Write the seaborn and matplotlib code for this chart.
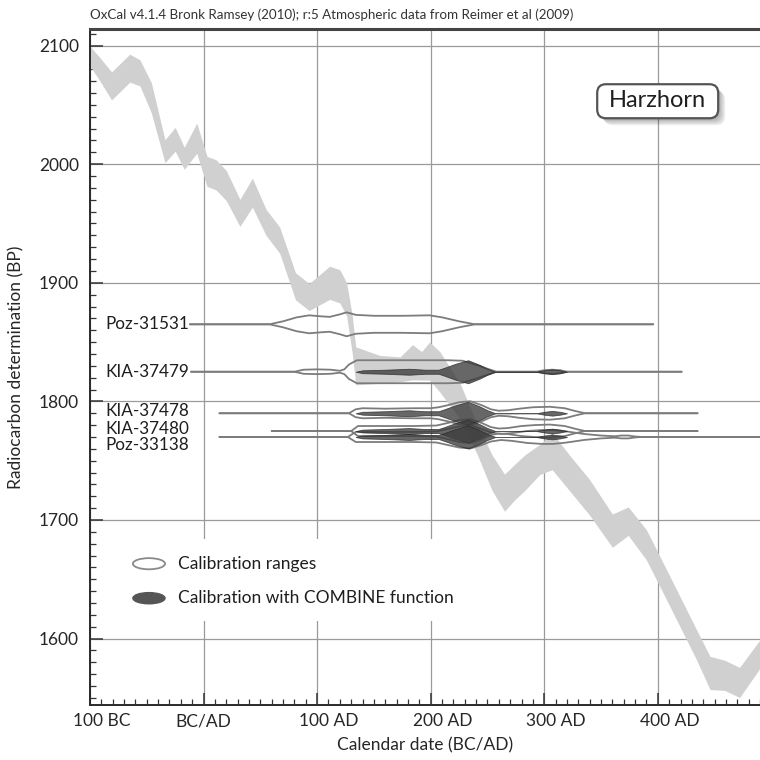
import numpy as np
import pandas as pd
import matplotlib
matplotlib.use("Agg")
import matplotlib.pyplot as plt
import matplotlib.patheffects as pe
import matplotlib.transforms as mtransforms
from matplotlib.patches import Ellipse, Rectangle, FancyBboxPatch
from matplotlib.ticker import MultipleLocator
import seaborn as sns

# Calibration curve band: centre and 1-sigma half width
curve_year = [-100, -92, -81, -65, -56, -46, -34, -25, -17, -6,
              3, 11, 20, 32, 43, 55, 67, 81, 93, 111,
              120, 126, 131, 134, 155, 173, 184, 192, 199, 208,
              226, 241, 254, 265, 274, 283, 296, 307, 322, 340,
              360, 374, 390, 410, 434, 446, 459, 472, 490]
curve_bp = [2091, 2081, 2066, 2081, 2077, 2056, 2011, 2021, 2005, 2022,
            1994, 1991, 1982, 1959, 1976, 1951, 1936, 1897, 1888, 1900,
            1897, 1886, 1856, 1830, 1827, 1827, 1833, 1830, 1834, 1825,
            1800, 1768, 1740, 1723, 1732, 1740, 1751, 1758, 1740, 1719,
            1691, 1699, 1679, 1641, 1595, 1571, 1569, 1563, 1587]
curve_err = [8.4, 9.7, 11.8, 11.8, 11, 12.7, 9.7, 10, 9.3, 12.7,
             12.7, 12.7, 12.7, 11.4, 12.2, 11, 11, 11.4, 11.4, 14,
             14, 14, 16, 16, 11.8, 10.5, 14.8, 12, 16, 17,
             15, 12.7, 15, 15.6, 15, 15, 12.7, 15.6, 15, 15,
             14, 12, 12.7, 12.7, 12.7, 14, 12.7, 12.7, 12]

# Radiocarbon dates
date_names = ["Poz-31531", "KIA-37479", "KIA-37478", "KIA-37480", "Poz-33138"]
date_bp = [1865, 1825, 1790, 1775, 1770]
line_start = [-12, -11, 14, 60, 14]
line_end = [396, 421, 435, 435, 520]
in_combine = [False, True, True, True, True]

# Calibrated distributions (relative probability)
poz31531_year = [58, 70, 82, 93, 103, 111, 120, 126, 134, 150, 175, 199, 210, 225, 239]
poz31531_prob = [0, .25, .58, .75, .67, .62, .83, 1.0, .79, .71, .71, .75, .58, .25, 0]

kia37479_year = [80, 88, 100, 112, 120, 124, 128, 135, 150, 175, 200, 215, 228, 240, 250, 258,
                 293, 300, 307, 314, 320]
kia37479_prob = [0, .17, .2, .17, .08, .2, .6, .96, .96, .96, .96, .96, .92, .58, .25, 0,
                 0, .13, .17, .13, 0]

kia37478_year = [128, 134, 140, 160, 185, 200, 207, 215, 225, 235, 245, 253, 260, 268, 278, 290,
                 305, 318, 328, 336]
kia37478_prob = [0, .33, .42, .38, .42, .42, .5, .67, .92, 1.0, .67, .33, .21, .25, .38, .5,
                 .54, .42, .17, 0]

kia37480_year = [130, 136, 160, 185, 205, 215, 225, 235, 245, 253, 260, 268, 280, 292, 305, 318,
                 328, 336]
kia37480_prob = [0, .42, .42, .42, .46, .67, .92, 1.0, .67, .33, .21, .25, .42, .5, .54, .42,
                 .17, 0]

poz33138_year = [127, 134, 160, 185, 205, 215, 225, 235, 245, 253, 262, 272, 285, 298, 308, 320,
                 335, 350, 362, 368, 374, 380, 386]
poz33138_prob = [0, .42, .42, .42, .46, .67, .88, .96, .67, .38, .25, .33, .5, .58, .58, .46,
                 .25, .12, .06, .12, .12, .04, 0]

# Combined (COMBINE function) distribution
combine_year = [134, 140, 160, 181, 195, 207, 212, 222, 233, 243, 250, 257, 293, 300, 307, 314, 320]
combine_prob = [0, .12, .17, .25, .17, .17, .33, .67, .96, .58, .25, 0, 0, .12, .2, .12, 0]

x_ticks = [-100, 0, 100, 200, 300, 400]
x_labels = ["100 BC", "BC/AD", "100 AD", "200 AD", "300 AD", "400 AD"]
y_ticks = [1600, 1700, 1800, 1900, 2000, 2100]

title = "OxCal v4.1.4 Bronk Ramsey (2010); r:5 Atmospheric data from Reimer et al (2009)"

single_year = [poz31531_year, kia37479_year, kia37478_year, kia37480_year, poz33138_year]
single_prob = [poz31531_prob, kia37479_prob, kia37478_prob, kia37480_prob, poz33138_prob]

PROF_H = 10.1          # BP per unit of relative probability
LINE_C = "#7c7c7c"
DARK_C = "#3c3c3c"

sns.set_theme(style="white")
plt.rcParams["font.family"] = ["Lato", "DejaVu Sans"]
plt.rcParams["text.color"] = "#1e1e1e"

fig = plt.figure(figsize=(7.6, 7.6), dpi=100)
ax = fig.add_axes([90 / 760, 55 / 760, 670 / 760, 676 / 760])

# calibration curve
cb = np.array(curve_bp)
ce = np.array(curve_err)
ax.fill_between(curve_year, cb - ce, cb + ce, color="#d0d0d0", lw=0, zorder=2)

# outlines of the single calibrations
rows = []
for name, bp, x0, x1, yrs, pr in zip(date_names, date_bp, line_start, line_end,
                                     single_year, single_prob):
    xs = [x0] + list(yrs) + [x1]
    ps = np.array([0] + list(pr) + [0])
    for side, sgn in (("up", 1), ("lo", -1)):
        for x, p in zip(xs, ps):
            rows.append({"year": x, "bp": bp + sgn * PROF_H * p, "trace": name + side})
outline = pd.DataFrame(rows)
sns.lineplot(data=outline, x="year", y="bp", units="trace", estimator=None, sort=False,
             color=LINE_C, lw=1.3, ax=ax, legend=False, zorder=3)

# combined distribution, drawn on every date in the combine
cp = np.array(combine_prob)
for bp, used in zip(date_bp, in_combine):
    if used:
        ax.fill_between(combine_year, bp - PROF_H * cp, bp + PROF_H * cp,
                        facecolor=DARK_C, edgecolor="#2a2a2a", lw=0.6, alpha=0.78, zorder=4)

# date labels
lab_trans = mtransforms.blended_transform_factory(ax.transAxes, ax.transData)
label_nudge = [0, 0, 1.5, 1.5, -5.5]
for name, bp, dy in zip(date_names, date_bp, label_nudge):
    t = mtransforms.offset_copy(lab_trans, fig=fig, x=0, y=dy, units="points")
    ax.text(0.148, bp, name, transform=t, ha="right", va="center", fontsize=12.3, zorder=6)

# axes
ax.set_xlim(-100, 490)
ax.set_ylim(1544, 2114)
ax.set_xticks(x_ticks, x_labels)
ax.set_yticks(y_ticks)
ax.xaxis.set_minor_locator(MultipleLocator(10))
ax.yaxis.set_minor_locator(MultipleLocator(10))
ax.tick_params(which="both", direction="in", bottom=True, left=True, top=False, right=False,
               color="#333333", labelsize=12.5)
ax.tick_params(which="major", length=9, width=1.1)
ax.tick_params(which="minor", length=4.5, width=0.9)
ax.tick_params(axis="x", pad=6)
ax.tick_params(axis="y", pad=8)
for tick, lab in zip(ax.xaxis.get_major_ticks(), x_labels):
    if " " in lab:
        tick.label1.set_transform(tick.label1.get_transform() +
                                  mtransforms.ScaledTranslation(0.12, 0, fig.dpi_scale_trans))

ax.grid(True, which="major", color="#9a9a9a", lw=0.9)
ax.set_axisbelow(True)
for s in ("left", "bottom"):
    ax.spines[s].set_color("#2a2a2a")
    ax.spines[s].set_linewidth(1.4)
ax.spines["top"].set_color("#444444")
ax.spines["top"].set_linewidth(2.2)
ax.spines["right"].set_visible(False)

ax.set_xlabel("Calendar date (BC/AD)", fontsize=12.5, labelpad=6)
ax.set_ylabel("Radiocarbon determination (BP)", fontsize=12.5, labelpad=10)
fig.text(90 / 760, 1 - 15 / 760, title, fontsize=9.6, ha="left", va="center", color="#333333")

# legend panel
ax.add_patch(Rectangle((0.035, 0.125), 0.52, 0.12, transform=ax.transAxes,
                       facecolor="white", edgecolor="none", zorder=1))
ax.add_patch(Ellipse((0.088, 0.209), 0.048, 0.0165, transform=ax.transAxes,
                     facecolor="white", edgecolor="#8a8a8a", lw=1.3, zorder=5))
ax.add_patch(Ellipse((0.088, 0.158), 0.048, 0.0165, transform=ax.transAxes,
                     facecolor="#555555", edgecolor="#555555", lw=1.0, zorder=5))
ax.text(0.131, 0.209, "Calibration ranges", transform=ax.transAxes,
        ha="left", va="center", fontsize=12.5, zorder=6)
ax.text(0.131, 0.158, "Calibration with COMBINE function", transform=ax.transAxes,
        ha="left", va="center", fontsize=12.5, zorder=6)

# site label box
box = FancyBboxPatch((0.757, 0.868), 0.1806, 0.0503, transform=ax.transAxes,
                     boxstyle="round,pad=0,rounding_size=0.013",
                     facecolor="white", edgecolor="#555555", lw=1.6, zorder=7)
box.set_path_effects([pe.SimplePatchShadow(offset=(o, -o), shadow_rgbFace="0.2", alpha=0.09)
                      for o in (1, 2, 3, 4, 5)] + [pe.Normal()])
ax.add_patch(box)
ax.text(0.847, 0.8935, "Harzhorn", transform=ax.transAxes, ha="center", va="center",
        fontsize=17, zorder=8)

fig.savefig("out.png", dpi=100)
